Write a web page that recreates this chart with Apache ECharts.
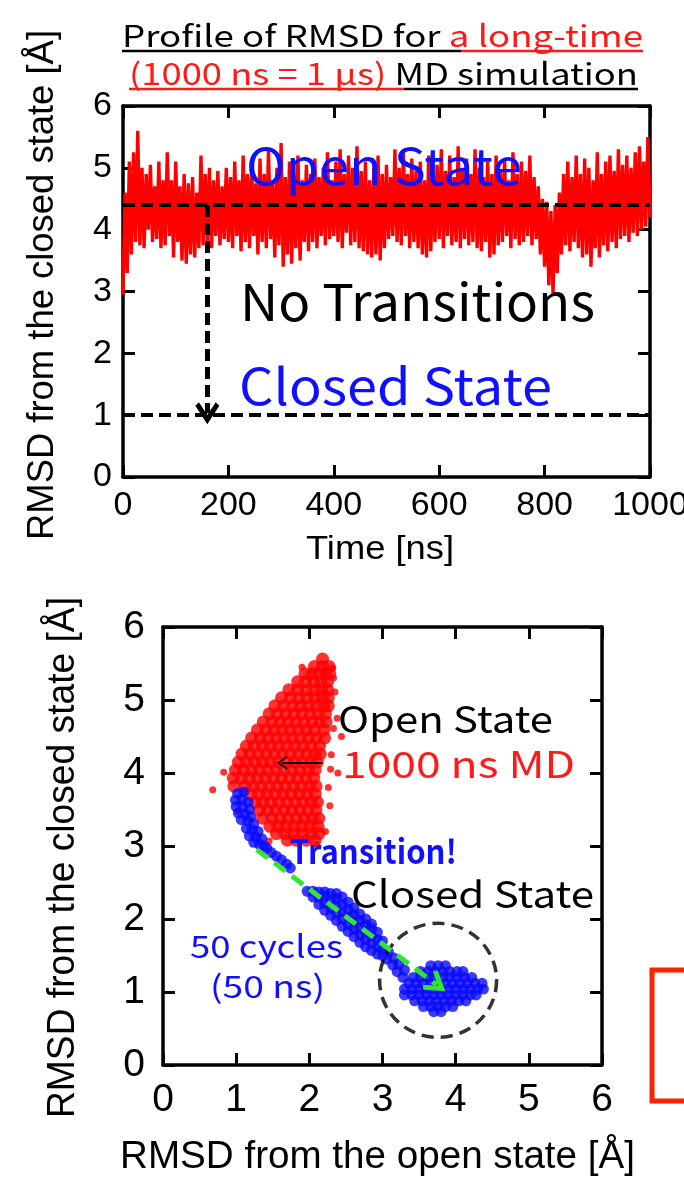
<!DOCTYPE html>
<html>
<head>
<meta charset="utf-8">
<script src="https://cdn.jsdelivr.net/npm/echarts@6/dist/echarts.min.js"></script>
<style>
html,body{margin:0;padding:0;background:#fff;}
#main{width:684px;height:1178px;}
</style>
</head>
<body>
<div id="main"></div>
<script>
// ---- top panel: RMSD from the closed state vs time (one value every 4 ns) ----
var timeStep = 4;
var rmsdTime = [
	2.95, 4.6, 3.3, 5.1, 3.6, 5.25, 3.8, 5.6, 3.75, 5.0,
	3.7, 4.9, 4.0, 5.05, 3.8, 4.7, 3.85, 5.1, 3.7, 4.8,
	3.75, 5.25, 3.9, 4.8, 3.55, 5.1, 3.8, 4.7, 3.5, 4.9,
	3.45, 4.75, 3.6, 4.85, 3.55, 4.6, 3.7, 5.2, 3.75, 4.9,
	3.8, 5.0, 3.7, 4.8, 3.9, 4.95, 3.75, 4.7, 3.85, 5.0,
	3.8, 4.85, 3.7, 5.1, 3.9, 4.8, 3.65, 5.2, 3.8, 4.9,
	3.7, 5.0, 3.9, 4.75, 3.6, 5.15, 3.8, 4.9, 3.7, 5.3,
	3.85, 4.8, 3.55, 5.0, 3.75, 5.4, 3.4, 4.85, 3.6, 5.1,
	3.45, 4.9, 3.7, 5.2, 3.5, 4.8, 3.8, 5.05, 3.65, 4.9,
	3.8, 5.15, 3.7, 4.85, 3.9, 5.0, 3.75, 5.25, 3.85, 4.8,
	3.9, 5.1, 3.8, 5.3, 3.7, 4.9, 3.95, 5.2, 3.75, 5.0,
	3.8, 5.35, 3.7, 4.95, 3.65, 5.1, 3.6, 4.8, 3.55, 5.0,
	3.6, 5.2, 3.5, 4.9, 3.7, 5.05, 3.85, 4.85, 3.9, 5.3,
	3.8, 5.0, 3.75, 5.25, 3.9, 4.9, 3.7, 5.15, 3.8, 4.95,
	3.7, 5.1, 3.6, 4.8, 3.55, 5.2, 3.65, 4.9, 3.8, 5.05,
	3.85, 5.3, 3.7, 4.95, 3.9, 5.2, 3.75, 4.85, 3.8, 5.35,
	3.7, 5.0, 3.85, 5.15, 3.75, 4.9, 3.8, 5.3, 3.7, 5.0,
	3.65, 4.85, 3.8, 5.1, 3.55, 4.9, 3.6, 5.2, 3.75, 4.95,
	3.8, 5.15, 3.9, 4.8, 3.7, 5.25, 3.85, 4.9, 3.75, 5.1,
	3.8, 4.95, 3.9, 5.2, 3.75, 4.85, 3.85, 4.7, 3.6, 4.5,
	3.4, 4.45, 3.1, 4.3, 2.95, 4.4, 3.3, 4.6, 3.6, 4.9,
	3.75, 5.1, 3.65, 4.85, 3.8, 5.2, 3.7, 4.9, 3.55, 5.15,
	3.6, 5.0, 3.4, 4.8, 3.7, 5.25, 3.55, 4.9, 3.75, 5.1,
	3.65, 5.2, 3.8, 4.95, 3.7, 5.3, 3.85, 5.05, 3.9, 5.2,
	3.8, 5.0, 3.95, 5.25, 3.9, 5.35, 4.0, 5.1, 4.05, 5.5,
	4.2
];
var openLevel = 4.4;
var closedLevel = 1.0;
var arrowTime = 160;
var timeTicks = {min: 0, max: 1000, step: 200};
var rmsdTicks = {min: 0, max: 6, step: 1};

// ---- bottom panel: RMSD(open) vs RMSD(closed) ----
// red cloud of the 1000 ns MD, read row by row: [y, [x, x, ...]]
var openCloudRows = [
	[5.56, [2.18]],
	[5.46, [2.07, 2.18, 2.27]],
	[5.36, [1.94, 2.03, 2.13, 2.22, 2.28]],
	[5.25, [1.84, 1.95, 2.06, 2.16, 2.25]],
	[5.14, [1.72, 1.84, 1.96, 2.07, 2.17, 2.25]],
	[5.03, [1.62, 1.74, 1.86, 1.97, 2.08, 2.18, 2.26]],
	[4.92, [1.53, 1.65, 1.77, 1.88, 1.99, 2.1, 2.2, 2.26]],
	[4.81, [1.45, 1.56, 1.68, 1.79, 1.9, 2.01, 2.12, 2.22]],
	[4.70, [1.37, 1.49, 1.6, 1.71, 1.82, 1.93, 2.04, 2.14, 2.23]],
	[4.59, [1.29, 1.41, 1.52, 1.63, 1.74, 1.85, 1.96, 2.07, 2.2]],
	[4.48, [1.21, 1.33, 1.44, 1.55, 1.66, 1.77, 1.88, 1.99, 2.1, 2.21]],
	[4.37, [1.14, 1.25, 1.36, 1.47, 1.58, 1.69, 1.8, 1.91, 2.02, 2.14]],
	[4.26, [1.08, 1.19, 1.3, 1.41, 1.52, 1.63, 1.74, 1.85, 1.96, 2.07, 2.15]],
	[4.15, [1.03, 1.14, 1.25, 1.36, 1.47, 1.58, 1.69, 1.8, 1.91, 2.02, 2.11]],
	[4.04, [0.99, 1.1, 1.21, 1.32, 1.43, 1.54, 1.65, 1.76, 1.87, 1.98, 2.08]],
	[3.93, [0.96, 1.07, 1.18, 1.29, 1.4, 1.51, 1.62, 1.73, 1.84, 1.95, 2.06]],
	[3.82, [0.97, 1.12, 1.23, 1.34, 1.45, 1.56, 1.67, 1.78, 1.89, 2.0, 2.09]],
	[3.71, [1.2, 1.31, 1.42, 1.53, 1.64, 1.75, 1.86, 1.97, 2.08]],
	[3.60, [1.26, 1.36, 1.47, 1.58, 1.69, 1.8, 1.91, 2.02, 2.11]],
	[3.49, [1.32, 1.43, 1.54, 1.65, 1.76, 1.87, 1.98, 2.09]],
	[3.38, [1.36, 1.49, 1.6, 1.71, 1.82, 1.93, 2.04, 2.13]],
	[3.27, [1.46, 1.57, 1.68, 1.79, 1.9, 2.01, 2.12]],
	[3.17, [1.55, 1.67, 1.79, 1.91, 2.03, 2.13]],
	[3.08, [1.7, 1.82, 1.96, 2.08]]
];
var openOutliers = [
	[0.68, 3.77], [0.83, 4.01], [2.35, 5.11], [2.44, 4.5], [2.39, 4.0],
	[2.32, 5.44], [2.38, 4.75], [2.33, 4.61], [2.28, 3.55], [2.22, 3.2],
	[1.45, 3.07], [2.1, 3.02], [2.3, 4.25], [1.9, 5.45], [1.02, 3.48],
	[2.33, 5.3], [2.26, 3.8], [2.29, 4.05]
];
// blue 50-cycle trajectory, open -> closed
var transitionPath = [
	[1.02, 3.72], [1.1, 3.74], [0.99, 3.63], [1.08, 3.64], [1.16, 3.6], [1.0, 3.54],
	[1.09, 3.54], [1.18, 3.5], [1.03, 3.45], [1.12, 3.44], [1.2, 3.4], [1.07, 3.36],
	[1.16, 3.34], [1.24, 3.3], [1.14, 3.24], [1.22, 3.22], [1.3, 3.2], [1.18, 3.14],
	[1.27, 3.12], [1.35, 3.1], [1.24, 3.05], [1.32, 3.02], [1.38, 3.0],
	[1.42, 2.97], [1.48, 2.91], [1.55, 2.86], [1.62, 2.81], [1.69, 2.75], [1.74, 2.7],
	[1.97, 2.38], [2.05, 2.3], [2.05, 2.38], [2.13, 2.2], [2.13, 2.3], [2.13, 2.37],
	[2.21, 2.12], [2.21, 2.22], [2.21, 2.32], [2.21, 2.37],
	[2.29, 2.05], [2.29, 2.15], [2.29, 2.25], [2.29, 2.35],
	[2.37, 1.98], [2.37, 2.08], [2.37, 2.18], [2.37, 2.28], [2.37, 2.35],
	[2.45, 1.9], [2.45, 2.0], [2.45, 2.1], [2.45, 2.2], [2.45, 2.3],
	[2.53, 1.83], [2.53, 1.93], [2.53, 2.03], [2.53, 2.13], [2.53, 2.23],
	[2.61, 1.76], [2.61, 1.86], [2.61, 1.96], [2.61, 2.06], [2.61, 2.15],
	[2.69, 1.68], [2.69, 1.78], [2.69, 1.88], [2.69, 1.98], [2.69, 2.07],
	[2.77, 1.62], [2.77, 1.72], [2.77, 1.82], [2.77, 1.92], [2.77, 2.0],
	[2.85, 1.57], [2.85, 1.67], [2.85, 1.77], [2.85, 1.87], [2.85, 1.93],
	[2.93, 1.52], [2.93, 1.62], [2.93, 1.72], [2.93, 1.82],
	[3.0, 1.5], [3.0, 1.6], [3.0, 1.7],
	[3.08, 1.55], [3.06, 1.45], [3.15, 1.47], [3.14, 1.37], [3.22, 1.38],
	[3.2, 1.28], [3.3, 1.3], [3.28, 1.2]
];
// closed-state cluster, row by row: [y, [x, ...]]
var closedClusterRows = [
	[1.36, [3.66, 3.76, 3.86]],
	[1.28, [3.52, 3.62, 3.72, 3.82, 3.92, 4.02, 4.1]],
	[1.20, [3.42, 3.52, 3.62, 3.72, 3.82, 3.92, 4.02, 4.12, 4.22]],
	[1.12, [3.36, 3.46, 3.56, 3.66, 3.76, 3.86, 3.96, 4.06, 4.16, 4.26, 4.36]],
	[1.04, [3.3, 3.4, 3.5, 3.6, 3.7, 3.8, 3.9, 4.0, 4.1, 4.2, 4.3, 4.38]],
	[0.96, [3.3, 3.4, 3.5, 3.6, 3.7, 3.8, 3.9, 4.0, 4.1, 4.2, 4.28]],
	[0.88, [3.44, 3.54, 3.64, 3.74, 3.84, 3.94, 4.04, 4.14]],
	[0.80, [3.56, 3.66, 3.76, 3.86, 3.96]],
	[0.73, [3.7, 3.8]]
];
var closedCircleCenter = [3.76, 1.16];
var pointerFrom = [2.18, 4.14], pointerTo = [1.63, 4.14];
var greenFrom = [1.28, 2.95], greenTo = [3.74, 1.1];
var rmsdTicks2 = {min: 0, max: 6, step: 1};

function expandRows(rows) {
	var out = [];
	rows.forEach(function (r) {
		r[1].forEach(function (x) { out.push([x, r[0]]); });
	});
	return out;
}
var timeSeries = rmsdTime.map(function (v, i) { return [i * timeStep, v]; });

var chevron = 'path://M5,0 L10,8 L8.5,9.5 L5,4 L1.5,9.5 L0,8 Z';
var chevronThin = 'path://M5,0 L10,8.8 L9.2,10 L5,2.6 L0.8,10 L0,8.8 Z';

var tickFont = '"Liberation Sans", Arial, sans-serif';
var jpFont = '"Noto Sans CJK JP", "Liberation Sans", sans-serif';

// text helpers: stretch each text to the width it has in the figure
var mctx = document.createElement('canvas').getContext('2d');
function textW(str, font) { mctx.font = font; return mctx.measureText(str).width; }
function label(str, font, color, left, right, cy) {
	return {
		type: 'text', x: left, y: cy, z: 100,
		scaleX: (right - left) / textW(str, font),
		style: {text: str, font: font, fill: color, textAlign: 'left', textVerticalAlign: 'middle', align: 'left', verticalAlign: 'middle'}
	};
}
function twoTone(a, colA, b, colB, font, left, right, cy) {
	var wa = textW(a, font), wb = textW(b, font);
	var s = (right - left) / (wa + wb);
	var t1 = label(a, font, colA, left, left + wa * s, cy);
	var t2 = label(b, font, colB, left + wa * s, right, cy);
	return [t1, t2];
}
function vlabel(str, font, cx, top, bottom) {
	return {
		type: 'text', x: cx, y: (top + bottom) / 2, z: 100, rotation: Math.PI / 2,
		scaleX: (bottom - top) / textW(str, font),
		style: {text: str, font: font, fill: '#000', textAlign: 'center', textVerticalAlign: 'middle', align: 'center', verticalAlign: 'middle'}
	};
}
function uline(x1, x2, y, color) {
	return {type: 'line', z: 100, shape: {x1: x1, y1: y, x2: x2, y2: y}, style: {stroke: color, lineWidth: 2.5}};
}

function axisPair(kind, grid, t, fontSize, margin) {
	var base = {
		gridIndex: grid, type: 'value', min: t.min, max: t.max, interval: t.step,
		splitLine: {show: false},
		axisLine: {show: true, onZero: false, lineStyle: {color: '#000', width: 3.5}},
		axisTick: {show: true, inside: true, length: 12, lineStyle: {color: '#000', width: 3}},
		axisLabel: {
			show: true, color: '#000', fontFamily: tickFont, fontSize: fontSize, margin: margin,
			formatter: function (v) { return String(v); }
		}
	};
	var mirror = echarts.util.merge({}, base, true);
	mirror.axisLabel = {show: false};
	if (kind === 'x') { base.position = 'bottom'; mirror.position = 'top'; }
	else { base.position = 'left'; mirror.position = 'right'; }
	return [base, mirror];
}

var myChart = echarts.init(document.getElementById('main'));

var topX = axisPair('x', 0, timeTicks, 34, 12);
var topY = axisPair('y', 0, rmsdTicks, 34, 11);
var botX = axisPair('x', 1, rmsdTicks2, 39, 16);
var botY = axisPair('y', 1, rmsdTicks2, 39, 18);

var texts = [];
texts = texts.concat(twoTone('Profile of RMSD for ', '#000', 'a long-time', '#ff1a1a', '30px ' + jpFont, 122, 643, 36));
texts = texts.concat(twoTone('(1000 ns = 1 \u03bcs)', '#ff1a1a', ' MD simulation', '#000', '30px ' + jpFont, 129, 638, 74));
texts.push(uline(122, 461, 51, '#000'), uline(461, 643, 51, '#ff1a1a'));
texts.push(uline(129, 404, 89, '#ff1a1a'), uline(404, 638, 89, '#000'));
texts.push(label('Open State', '50px ' + jpFont, '#1010ff', 246, 522, 166));
texts.push(label('No Transitions', '51px ' + jpFont, '#000', 240, 595, 302));
texts.push(label('Closed State', '50px ' + jpFont, '#1010ff', 239, 552, 386));
texts.push(label('Time [ns]', '34px ' + tickFont, '#000', 306, 454, 550));
texts.push(vlabel('RMSD from the closed state [\u00c5]', '36px ' + tickFont, 43, 30, 540));
texts.push(label('Open State', '37px ' + jpFont, '#000', 338, 553, 719));
texts.push(label('1000 ns MD', '37px ' + jpFont, '#ff1a1a', 342, 575, 764));
texts.push(label('Transition!', 'bold 33px ' + jpFont, '#1010ff', 290, 457, 851));
texts.push(label('Closed State', '37px ' + jpFont, '#000', 351, 594, 894));
texts.push(label('50 cycles', '31px ' + jpFont, '#1010ff', 190, 343, 946));
texts.push(label('(50 ns)', '31px ' + jpFont, '#1010ff', 210, 325, 986));
texts.push(label('RMSD from the open state [\u00c5]', '38px ' + tickFont, '#000', 120, 635, 1158));
texts.push(vlabel('RMSD from the closed state [\u00c5]', '38px ' + tickFont, 64, 597, 1118));
texts.push({type: 'rect', z: 100, shape: {x: 652, y: 970, width: 60, height: 131},
	style: {fill: 'none', stroke: '#ff2200', lineWidth: 5}});

var option = {
	backgroundColor: '#fff',
	animation: false,
	grid: [
		{left: 123, top: 106, width: 527, height: 371, outerBoundsMode: 'none'},
		{left: 163, top: 627, width: 439, height: 438, outerBoundsMode: 'none'}
	],
	xAxis: [topX[0], topX[1], botX[0], botX[1]],
	yAxis: [topY[0], topY[1], botY[0], botY[1]],
	series: [{
		name: 'rmsd',
		type: 'line',
		xAxisIndex: 0, yAxisIndex: 0,
		data: timeSeries,
		symbol: 'none',
		lineStyle: {color: '#ff0000', width: 3.4},
		z: 2,
		markLine: {
			silent: true,
			symbol: ['none', 'none'],
			label: {show: false},
			lineStyle: {color: '#000', width: 4, type: [12, 6]},
			data: [
				[{coord: [0, openLevel]}, {coord: [1000, openLevel]}],
				[{coord: [0, closedLevel]}, {coord: [1000, closedLevel]}],
				[{coord: [arrowTime, openLevel], lineStyle: {color: '#000', width: 5, type: [12, 6]}},
					{coord: [arrowTime, closedLevel + 0.03], symbol: chevron, symbolSize: [24, 22]}]
			]
		}
	}, {
		name: 'open cloud',
		type: 'scatter',
		xAxisIndex: 2, yAxisIndex: 2,
		data: expandRows(openCloudRows),
		symbolSize: 13,
		itemStyle: {color: '#ff0000'},
		z: 2,
		markLine: {
			silent: true,
			symbol: ['none', 'none'],
			label: {show: false},
			lineStyle: {color: '#000', width: 2, type: 'solid'},
			data: [[{coord: pointerFrom}, {coord: pointerTo, symbol: chevronThin, symbolSize: [13, 11]}]]
		}
	}, {
		name: 'open outliers',
		type: 'scatter',
		xAxisIndex: 2, yAxisIndex: 2,
		data: openOutliers,
		symbolSize: 7,
		itemStyle: {color: '#ff0000'},
		z: 2
	}, {
		name: 'transition',
		type: 'scatter',
		xAxisIndex: 2, yAxisIndex: 2,
		data: transitionPath.concat(expandRows(closedClusterRows)),
		symbolSize: 11,
		itemStyle: {color: '#0a0aff'},
		z: 3,
		markLine: {
			silent: true,
			symbol: ['none', 'none'],
			label: {show: false},
			lineStyle: {color: '#33e433', width: 5, type: [14, 8]},
			data: [[{coord: greenFrom}, {coord: greenTo, symbol: chevron, symbolSize: [24, 22]}]]
		}
	}, {
		name: 'closed state',
		type: 'scatter',
		xAxisIndex: 2, yAxisIndex: 2,
		data: [closedCircleCenter],
		symbolSize: [117, 114],
		itemStyle: {color: 'rgba(0,0,0,0)', borderColor: '#000', borderWidth: 3.5, borderType: [12, 7]},
		z: 4
	}],
	graphic: texts
};
myChart.setOption(option);
</script>
</body>
</html>
